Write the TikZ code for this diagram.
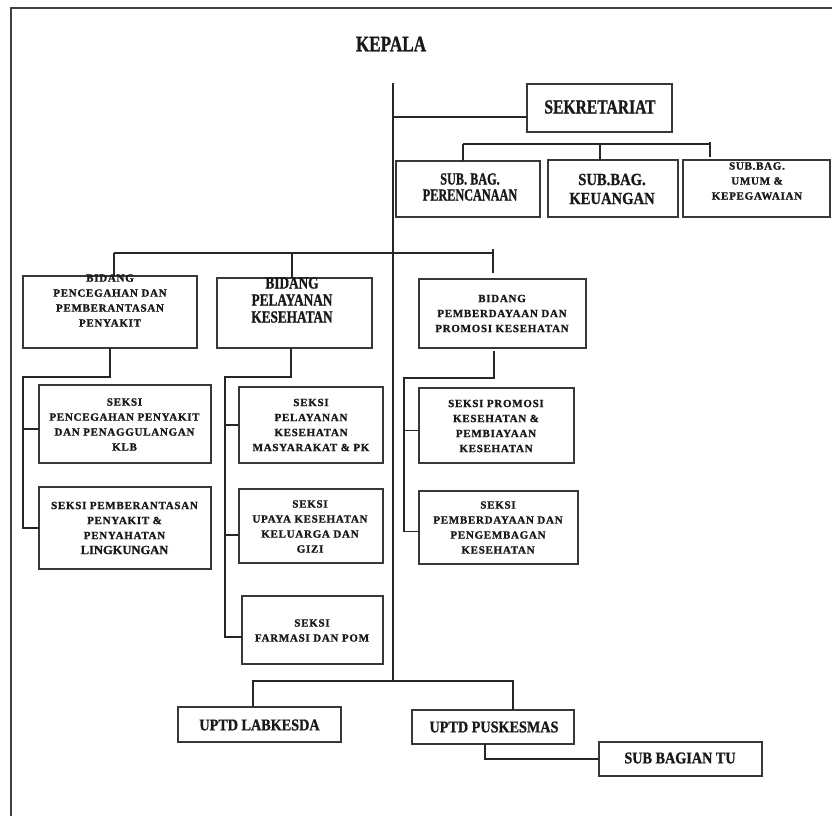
\documentclass[tikz,border=0pt]{standalone}
\usepackage{fontspec}
\setmainfont{Liberation Serif}
\newfontfamily\cA[FakeStretch=0.78,FakeBold=1]{Liberation Serif Bold}
\newfontfamily\cB[FakeStretch=0.72,FakeBold=1]{Liberation Serif Bold}
\newfontfamily\cC[FakeStretch=0.86,FakeBold=1]{Liberation Serif Bold}
\newfontfamily\smf[LetterSpace=6.5,FakeBold=1.3]{Liberation Serif Bold}
\newfontfamily\lgf[FakeBold=1]{Liberation Serif Bold}
\newcommand\bx[5]{\node[box,minimum width={(#4-#2)*1pt},minimum height={(#5-#3)*1pt}] (#1) at ({(#2+#4)/2},{(#3+#5)/2}) {};}
\begin{document}
\begin{tikzpicture}[x=1pt,y=-1pt,
  box/.style={draw=black!78,line width=1.4pt,inner sep=0pt,outer sep=0pt},
  con/.style={draw=black!85,line width=1.2pt},
  lbl/.style={align=center,inner sep=0pt,text=black!90},
  smalltxt/.style={lbl,font=\smf\fontsize{11}{15}\selectfont},
  bigA/.style={lbl,font=\cA\fontsize{20}{22}\selectfont},
  bigB/.style={lbl,font=\cB\fontsize{17}{16}\selectfont},
  bigC/.style={lbl,font=\cC\fontsize{17}{19}\selectfont},
  uptd/.style={lbl,font=\cC\fontsize{16.5}{18}\selectfont}]
\useasboundingbox (0,0) rectangle (832,816);
\fill[white] (0,0) rectangle (832,816);
% frame
\draw[line width=1.3pt,black!75] (11,816) -- (11,8) -- (832,8);
% boxes
\bx{sek}{527}{84}{672}{132}
\bx{sbp}{396}{161}{540}{217}
\bx{sbk}{548}{160}{678}{217}
\bx{sbu}{683}{160}{830}{217}
\bx{b1}{23}{276}{197}{348}
\bx{b2}{217}{278}{372}{348}
\bx{b3}{419}{279}{586}{348}
\bx{s11}{39}{385}{211}{463}
\bx{s12}{39}{487}{211}{569}
\bx{s21}{239}{387}{383}{463}
\bx{s22}{239}{489}{383}{563}
\bx{s23}{242}{596}{383}{664}
\bx{s31}{419}{388}{574}{463}
\bx{s32}{419}{491}{578}{564}
\bx{lab}{178}{707}{341}{742}
\bx{pus}{412}{710}{574}{744}
\bx{tu}{599}{742}{762}{776}
% main line
\coordinate (mtop) at (393,83);
\coordinate (mbot) at (393,681);
\draw[con] (mtop) -- (mbot);
\draw[con] ([yshift=-9pt]sek.west) -- ([yshift=-9pt]sek.west -| mtop);
% sub bag bus
\coordinate (sbL) at (463,144);
\coordinate (sbM) at (600,144);
\coordinate (sbR) at (710,144);
\draw[con] (sbL) -- (sbR);
\draw[con] (sbL) -- (sbL |- sbp.north);
\draw[con] (sbM) -- (sbM |- sbk.north);
\draw[con] ([yshift=2pt]sbR) -- ([yshift=-13pt]sbR);
% bidang bus
\coordinate (bL) at (114,253);
\coordinate (bM) at (292,253);
\coordinate (bR) at (493,253);
\draw[con] (bL) -- (bR);
\draw[con] (bL) -- (bL |- b1.north);
\draw[con] (bM) -- (bM |- b2.north);
\draw[con] ([yshift=4pt]bR) -- ([yshift=-20pt]bR);
% bidang 1 branch
\coordinate (b1j) at (110,377);
\coordinate (b1v) at (23,377);
\draw[con] (b1j |- b1.south) -- (b1j) -- (b1v) |- (s12.west);
\draw[con] ([yshift=-5pt]s11.west -| b1v) -- ([yshift=-5pt]s11.west);
% bidang 2 branch
\coordinate (b2j) at (291,377);
\coordinate (b2v) at (225,377);
\draw[con] (b2j |- b2.south) -- (b2j) -- (b2v) |- ([yshift=-7pt]s23.west);
\draw[con] (b2v |- s21.west) -- (s21.west);
\draw[con] ([yshift=-9pt]s22.west -| b2v) -- ([yshift=-9pt]s22.west);
% bidang 3 branch
\coordinate (b3j) at (494,378);
\coordinate (b3v) at (404,378);
\draw[con] ([yshift=-3pt]b3j |- b3.south) -- (b3j) -- (b3v) |- ([yshift=-4pt]s32.west);
\draw[con] ([yshift=-5pt]s31.west -| b3v) -- ([yshift=-5pt]s31.west);
% uptd bus
\coordinate (uL) at (253,681);
\coordinate (uR) at (513,681);
\draw[con] (uL |- lab.north) -- (uL) -- (uR) -- (uR |- pus.north);
\coordinate (pt) at (485,756);
\draw[con] (pt |- pus.south) |- (tu.west);
% texts
\node[lbl,font=\cA\fontsize{22}{24}\selectfont] (tkep) at (391,44) {KEPALA};
\node[bigA] (tsek) at (600,107) {SEKRETARIAT};
\node[bigB] (tsbp) at (470,187) {SUB. BAG.\\PERENCANAAN};
\node[bigC] (tsbk) at (612,189) {SUB.BAG.\\KEUANGAN};
\node[smalltxt] (tsbu) at (757,181) {SUB.BAG.\\UMUM \&\\KEPEGAWAIAN};
\node[smalltxt] (tb1) at (110,300.5) {BIDANG\\PENCEGAHAN DAN\\PEMBERANTASAN\\PENYAKIT};
\node[lbl,font=\cA\fontsize{17}{17}\selectfont] (tb2) at (292,300) {BIDANG\\PELAYANAN\\KESEHATAN};
\node[smalltxt] (tb3) at (502,313.5) {BIDANG\\PEMBERDAYAAN DAN\\PROMOSI KESEHATAN};
\node[smalltxt] (ts11) at (124.5,424.5) {SEKSI\\PENCEGAHAN PENYAKIT\\DAN PENAGGULANGAN\\KLB};
\node[smalltxt] (ts12) at (124.5,528) {SEKSI PEMBERANTASAN\\PENYAKIT \&\\PENYAHATAN\\{\lgf\fontsize{12.5}{15}\selectfont LINGKUNGAN}};
\node[smalltxt] (ts21) at (311,425) {SEKSI\\PELAYANAN\\KESEHATAN\\MASYARAKAT \& PK};
\node[smalltxt] (ts22) at (310,526.5) {SEKSI\\UPAYA KESEHATAN\\KELUARGA DAN\\GIZI};
\node[smalltxt] (ts23) at (312,630.5) {SEKSI\\FARMASI DAN POM};
\node[smalltxt] (ts31) at (496,426) {SEKSI PROMOSI\\KESEHATAN \&\\PEMBIAYAAN\\KESEHATAN};
\node[smalltxt] (ts32) at (498,527.5) {SEKSI\\PEMBERDAYAAN DAN\\PENGEMBAGAN\\KESEHATAN};
\node[uptd] (tlab) at (259.5,725) {UPTD LABKESDA};
\node[uptd] (tpus) at (494,727) {UPTD PUSKESMAS};
\node[uptd] (ttu) at (680,758) {SUB BAGIAN TU};
\end{tikzpicture}
\end{document}
